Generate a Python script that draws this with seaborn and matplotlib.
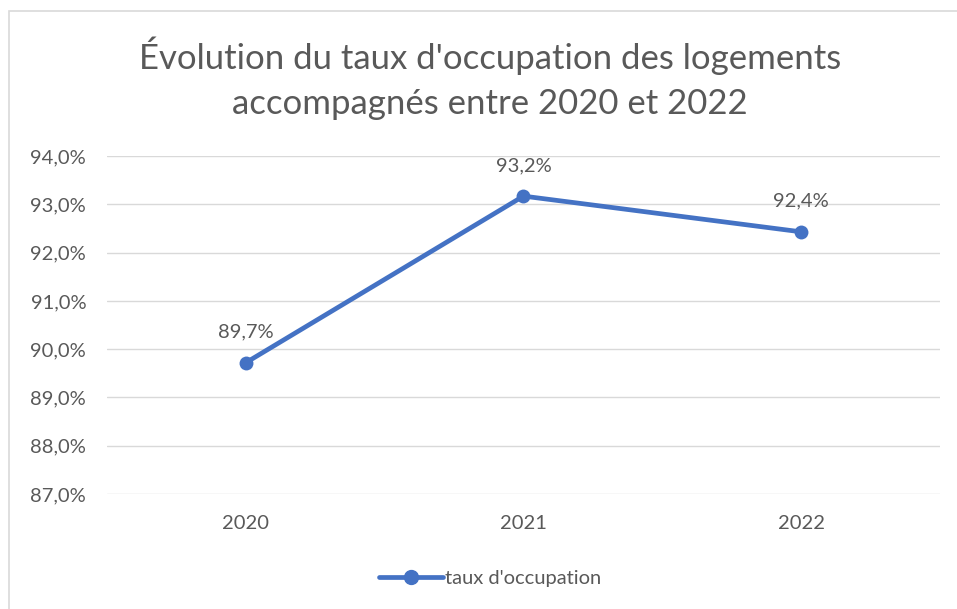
import matplotlib
matplotlib.use("Agg")
import matplotlib.pyplot as plt
import seaborn as sns
import pandas as pd
from matplotlib.patches import Rectangle
from matplotlib.lines import Line2D

years = ["2020", "2021", "2022"]
taux = [89.72, 93.17, 92.43]
labels = ["89,7%", "93,2%", "92,4%"]
yticks = [87, 88, 89, 90, 91, 92, 93, 94]
series_name = "taux d'occupation"

sns.set_theme(style="white")
plt.rcParams['font.family'] = ['Lato', 'DejaVu Sans']

TXT = "#595959"
GRID = "#D9D9D9"
BLUE = "#4472C4"

df = pd.DataFrame({"annee": years, "taux": taux})

fig = plt.figure(figsize=(9.57, 6.09), dpi=100)
ax = fig.add_axes([0.1118, 0.1888, 0.8704, 0.555])

sns.lineplot(data=df, x="annee", y="taux", ax=ax, color=BLUE, linewidth=3.4,
             marker="o", markersize=10, markeredgewidth=0, sort=False, zorder=3)

ax.set_xlim(-0.5, 2.5)
ax.set_ylim(87, 94)
ax.set_yticks(yticks)
ax.set_yticklabels([f"{v},0%" for v in yticks], color=TXT, fontsize=14.5)
ax.set_xticks(range(len(years)))
ax.set_xticklabels(years, color=TXT, fontsize=14.5)
ax.tick_params(axis="y", length=0, pad=15)
ax.tick_params(axis="x", length=0, pad=15)
ax.set_xlabel("")
ax.set_ylabel("")
ax.grid(axis="y", color=GRID, linewidth=1)
for s in ax.spines.values():
    s.set_visible(False)

for i, (v, lab) in enumerate(zip(taux, labels)):
    ax.annotate(lab, (i, v), xytext=(0, 16), textcoords="offset points",
                ha="center", va="bottom", color=TXT, fontsize=14.5)

fig.text(0.512, 0.871, "Évolution du taux d'occupation des logements\naccompagnés entre 2020 et 2022",
         ha="center", va="center", color=TXT, fontsize=25, linespacing=1.5)

handle = Line2D([0], [0], color=BLUE, linewidth=3.4, marker="o", markersize=10)
fig.legend([handle], [series_name], loc="center", bbox_to_anchor=(0.512, 0.05),
           frameon=False, fontsize=14.5, handlelength=3.2, handletextpad=0.1,
           labelcolor=TXT)

fig.patches.append(Rectangle((9/957, -0.1), 2, 1 + 0.1 - 11/609,
                             transform=fig.transFigure, fill=False,
                             edgecolor=GRID, linewidth=1.2, zorder=0))

fig.savefig("out.png", dpi=100)
